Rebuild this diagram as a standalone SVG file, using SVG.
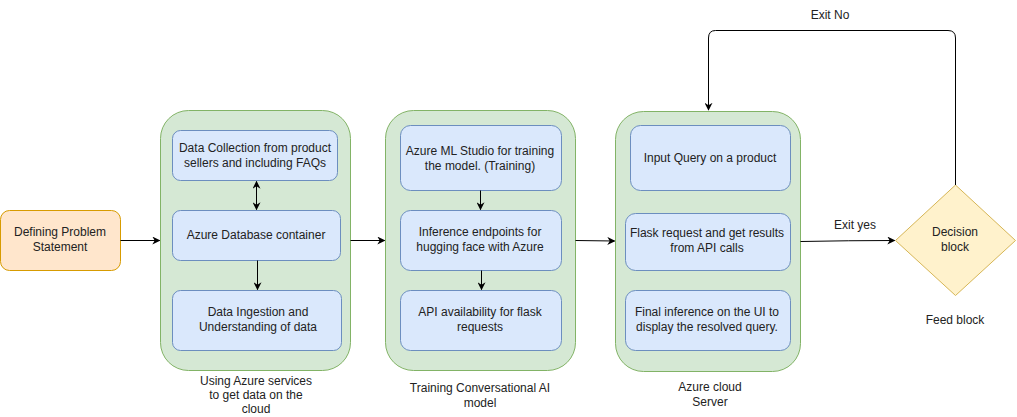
<svg xmlns="http://www.w3.org/2000/svg" width="1017" height="417" viewBox="0 0 1017 417">
<defs>
<marker id="ah" viewBox="0 0 10 10" refX="9" refY="5" markerWidth="8" markerHeight="8" orient="auto-start-reverse" markerUnits="userSpaceOnUse"><path d="M0,0 L10,5 L0,10 L3,5 Z" fill="#000"/></marker>
<style>
text{font-family:"Liberation Sans",Arial,sans-serif;font-size:12px;fill:#222;text-anchor:middle}
.grp{fill:#d5e8d4;stroke:#82b366;stroke-width:1}
.box{fill:#dae8fc;stroke:#6c8ebf;stroke-width:1}
.c{fill:none;stroke:#000;stroke-width:1;marker-end:url(#ah)}
</style>
</defs>
<rect width="1017" height="417" fill="#fff"/>
<g id="problem"><rect x="0.5" y="210.5" width="120" height="60" rx="9" fill="#ffe6cc" stroke="#d79b00"/><text x="60" y="236">Defining Problem</text><text x="60" y="251">Statement</text></g>
<g id="group1"><rect class="grp" x="160.5" y="110.5" width="190" height="260" rx="28"/><text x="256" y="385">Using Azure services</text><text x="256" y="399">to get data on the</text><text x="256" y="413">cloud</text></g>
<g id="n1a"><rect class="box" x="172.5" y="130.5" width="165" height="50" rx="8"/><text x="255" y="152">Data Collection from product</text><text x="255" y="167">sellers and including FAQs</text></g>
<g id="n1b"><rect class="box" x="172.5" y="210.5" width="168" height="50" rx="8"/><text x="256" y="239">Azure Database container</text></g>
<g id="n1c"><rect class="box" x="172.5" y="290.5" width="169" height="60" rx="8"/><text x="258" y="316">Data Ingestion and</text><text x="258" y="331">Understanding of data</text></g>
<g id="group2"><rect class="grp" x="385.5" y="110.5" width="190" height="260" rx="28"/><text x="480" y="392">Training Conversational AI</text><text x="480" y="407">model</text></g>
<g id="n2a"><rect class="box" x="400.5" y="125.5" width="161" height="65" rx="10"/><text x="480" y="155">Azure ML Studio for training</text><text x="480" y="170">the model. (Training)</text></g>
<g id="n2b"><rect class="box" x="400.5" y="210.5" width="161" height="60" rx="10"/><text x="480" y="236">Inference endpoints for</text><text x="480" y="251">hugging face with Azure</text></g>
<g id="n2c"><rect class="box" x="400.5" y="290.5" width="161" height="60" rx="10"/><text x="480" y="316">API availability for flask</text><text x="480" y="331">requests</text></g>
<g id="group3"><rect class="grp" x="615.5" y="111.5" width="185" height="260" rx="28"/><text x="710" y="391">Azure cloud</text><text x="710" y="406">Server</text></g>
<g id="n3a"><rect class="box" x="630.5" y="125.5" width="160" height="65" rx="10"/><text x="710" y="162">Input Query on a product</text></g>
<g id="n3b"><rect class="box" x="625.5" y="213.5" width="165" height="57" rx="10"/><text x="707" y="237">Flask request and get results</text><text x="707" y="252">from API calls</text></g>
<g id="n3c"><rect class="box" x="625.5" y="290.5" width="165" height="60" rx="10"/><text x="707" y="316">Final inference on the UI to</text><text x="707" y="331">display the resolved query.</text></g>
<g id="decision"><path d="M955.5,185 L1015.5,240.5 L955.5,295.5 L895.5,240.5 Z" fill="#fff2cc" stroke="#d6b656"/><text x="955" y="236">Decision</text><text x="955" y="251">block</text><text x="955" y="324">Feed block</text></g>
<g id="connectors">
<path class="c" d="M120.5,240.5 L159.5,240.5"/>
<path class="c" d="M350.5,240.5 L384.5,240.5"/>
<path class="c" d="M575.5,240.5 L614.5,241" stroke-width="1.3"/>
<path class="c" d="M256.5,181.5 L256.5,209.5" marker-start="url(#ah)"/>
<path class="c" d="M257.5,260.5 L257.5,289.5"/>
<path class="c" d="M480.5,190.5 L480.5,209.5"/>
<path class="c" d="M481.5,270.5 L481.5,289.5"/>
<path class="c" d="M800.5,241.5 Q850,240.5 894.5,240.5"/>
<path class="c" d="M955.5,185 L955.5,38 Q955.5,30.5 948,30.5 L715.5,30.5 Q708.5,30.5 708.5,38 L708.5,110"/>
<text x="855" y="229">Exit yes</text>
<text x="830" y="19">Exit No</text>
</g>
</svg>
